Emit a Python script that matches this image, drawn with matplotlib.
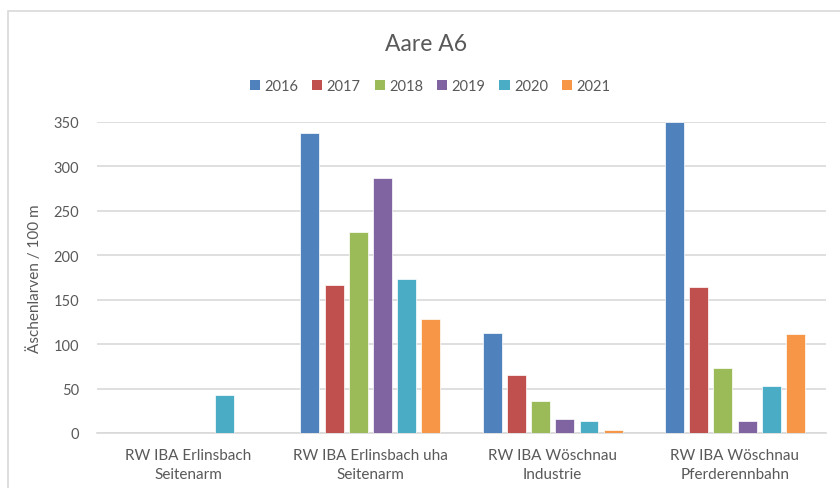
import matplotlib
matplotlib.use("Agg")
import matplotlib.pyplot as plt
import numpy as np
from matplotlib.patches import Patch

plt.rcParams['font.family'] = ['Lato', 'DejaVu Sans']

categories = ["RW IBA Erlinsbach\nSeitenarm", "RW IBA Erlinsbach uha\nSeitenarm",
              "RW IBA Wöschnau\nIndustrie", "RW IBA Wöschnau\nPferderennbahn"]
years = ["2016", "2017", "2018", "2019", "2020", "2021"]
values = {
    "2016": [0, 338, 112, 350],
    "2017": [0, 166, 65, 164],
    "2018": [0, 226, 36, 73],
    "2019": [0, 287, 16, 14],
    "2020": [43, 173, 13, 53],
    "2021": [0, 128, 3, 111],
}
colors = ["#4F81BD", "#C0504D", "#9BBB59", "#8064A2", "#4BACC6", "#F79646"]
yticks = [0, 50, 100, 150, 200, 250, 300, 350]

txt = "#595959"
fig = plt.figure(figsize=(8.4, 4.89), dpi=100)
ax = fig.add_axes([0.1155, 0.1125, 0.868, 0.636])

x = np.arange(len(categories))
step = 0.1327
w = 0.104
for i, (yr, c) in enumerate(zip(years, colors)):
    ax.bar(x + (i - 2.5) * step, values[yr], width=w, color=c,
           edgecolor="white", linewidth=0.5, zorder=3)

ax.set_xlim(-0.5, 3.5)
ax.set_ylim(0, 350)
ax.set_yticks(yticks)
ax.set_xticks(x)
ax.set_xticklabels(categories, fontsize=11, color=txt, linespacing=1.4)
ax.tick_params(axis='y', length=0, pad=13, labelsize=10.5, labelcolor=txt)
ax.tick_params(axis='x', length=0, pad=11)
ax.grid(axis='y', color="#D9D9D9", linewidth=1.2, zorder=0)
for s in ["top", "right", "left"]:
    ax.spines[s].set_visible(False)
ax.spines["bottom"].set_color("#D9D9D9")
ax.spines["bottom"].set_linewidth(1.2)
ax.set_ylabel("Äschenlarven / 100 m", fontsize=11, color=txt, labelpad=8)

fig.text(0.507, 0.91, "Aare A6", ha="center", va="center", fontsize=16.5, color=txt)
handles = [Patch(facecolor=c, edgecolor="none") for c in colors]
fig.legend(handles, years, loc="center", bbox_to_anchor=(0.512, 0.822), ncol=6,
           frameon=False, fontsize=10.5, labelcolor=txt, handlelength=0.7,
           handleheight=0.7, handletextpad=0.3, columnspacing=0.95)

# outer chart border
fig.add_artist(plt.Rectangle((0.010, -0.05), 1.2, 1.026, transform=fig.transFigure,
                             fill=False, edgecolor="#D9D9D9", linewidth=1.2))

fig.savefig("out.png", dpi=100)
